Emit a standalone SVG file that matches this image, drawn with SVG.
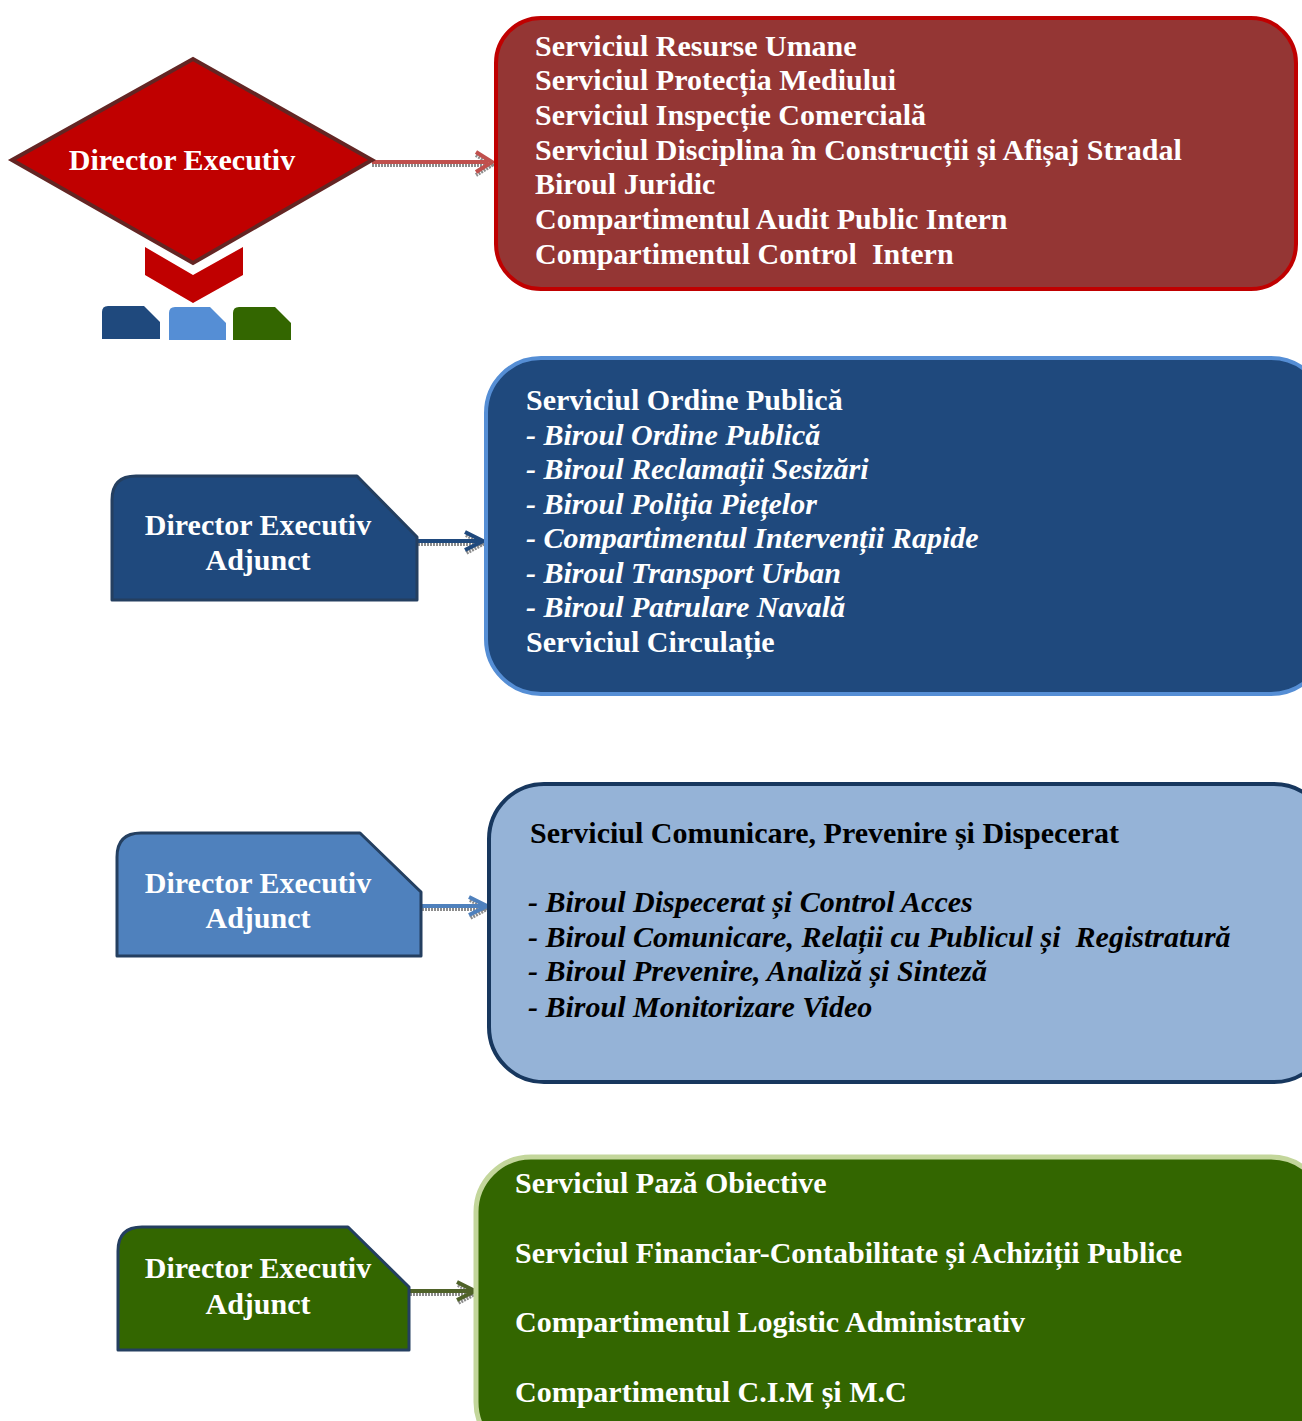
<svg xmlns="http://www.w3.org/2000/svg" width="1302" height="1421" viewBox="0 0 1302 1421">
<style>
text{font-family:"Liberation Serif","Times New Roman",serif;font-weight:bold;font-size:30px;white-space:pre}
.w{fill:#ffffff}
.k{fill:#000000}
.i{font-style:italic}
.c{text-anchor:middle}
.sh{fill:none;stroke:#8c8c8c;stroke-width:4;stroke-dasharray:2 1}
</style>
<rect width="1302" height="1421" fill="#ffffff"/>
<g id="connectors">
  <g id="arrow-red">
    <line class="sh" x1="372" y1="165" x2="490" y2="165"/>
    <polyline class="sh" points="476,155 492,165 476,175"/>
    <line x1="372" y1="162" x2="488" y2="162" stroke="#C0504D" stroke-width="4"/>
    <polyline points="476,152 492,162 476,172" fill="none" stroke="#C0504D" stroke-width="4"/>
  </g>
  <g id="arrow-blue">
    <line class="sh" x1="418" y1="544" x2="482" y2="544"/>
    <polyline class="sh" points="466,535 483,544 466,553"/>
    <line x1="418" y1="541" x2="481" y2="541" stroke="#1F497D" stroke-width="4"/>
    <polyline points="465,532 483,541 465,550" fill="none" stroke="#1F497D" stroke-width="4"/>
  </g>
  <g id="arrow-lightblue">
    <line class="sh" x1="422" y1="909" x2="486" y2="909"/>
    <polyline class="sh" points="470,900 487,909 470,918"/>
    <line x1="422" y1="906" x2="485" y2="906" stroke="#4F81BD" stroke-width="4"/>
    <polyline points="469,897 487,906 469,915" fill="none" stroke="#4F81BD" stroke-width="4"/>
  </g>
  <g id="arrow-green">
    <line class="sh" x1="410" y1="1294" x2="473" y2="1294"/>
    <polyline class="sh" points="458,1285 475,1294 458,1303"/>
    <line x1="410" y1="1291" x2="472" y2="1291" stroke="#4F6228" stroke-width="4"/>
    <polyline points="457,1282 475,1291 457,1300" fill="none" stroke="#4F6228" stroke-width="4"/>
  </g>
</g>
<g id="director-executiv">
  <polygon points="12,160 193,59 372,160 193,263" fill="#C00000" stroke="#632523" stroke-width="4" stroke-linejoin="miter"/>
  <text class="w c" x="182" y="170">Director Executiv</text>
</g>
<g id="chevron">
  <polygon points="145,247 193,275 243,247 243,275 193,303 145,275" fill="#C00000"/>
</g>
<g id="tabs">
  <path d="M102,312 Q102,306 108,306 L144,306 L160,322 L160,339 L102,339 Z" fill="#1F497D"/>
  <path d="M169,313 Q169,307 175,307 L210,307 L226,323 L226,340 L169,340 Z" fill="#558ED5"/>
  <path d="M233,313 Q233,307 239,307 L275,307 L291,323 L291,340 L233,340 Z" fill="#336600"/>
</g>
<g id="box-red">
  <rect x="496" y="18" width="800" height="271" rx="45" ry="45" fill="#943634" stroke="#C00000" stroke-width="4"/>
  <text class="w" x="535" y="56">Serviciul Resurse Umane</text>
  <text class="w" x="535" y="90">Serviciul Protecția Mediului</text>
  <text class="w" x="535" y="125">Serviciul Inspecție Comercială</text>
  <text class="w" x="535" y="160">Serviciul Disciplina în Construcții și Afișaj Stradal</text>
  <text class="w" x="535" y="194">Biroul Juridic</text>
  <text class="w" x="535" y="229">Compartimentul Audit Public Intern</text>
  <text class="w" x="535" y="264">Compartimentul Control  Intern</text>
</g>
<g id="deputy-1">
  <path d="M112,600 L112,500 Q112,476 136,476 L357,476 L417,537 L417,600 Z" fill="#1F497D" stroke="#243F60" stroke-width="3" stroke-linejoin="round"/>
  <text class="w c" x="258" y="535">Director Executiv</text>
  <text class="w c" x="258" y="570">Adjunct</text>
</g>
<g id="box-blue">
  <rect x="486" y="358" width="840" height="336" rx="55" ry="55" fill="#1F497D" stroke="#558ED5" stroke-width="4"/>
  <text class="w" x="526" y="410">Serviciul Ordine Publică</text>
  <text class="w i" x="526" y="445">- Biroul Ordine Publică</text>
  <text class="w i" x="526" y="479">- Biroul Reclamații Sesizări</text>
  <text class="w i" x="526" y="514">- Biroul Poliția Piețelor</text>
  <text class="w i" x="526" y="548">- Compartimentul Intervenții Rapide</text>
  <text class="w i" x="526" y="583">- Biroul Transport Urban</text>
  <text class="w i" x="526" y="617">- Biroul Patrulare Navală</text>
  <text class="w" x="526" y="652">Serviciul Circulație</text>
</g>
<g id="deputy-2">
  <path d="M117,956 L117,857 Q117,833 141,833 L360,833 L421,892 L421,956 Z" fill="#4F81BD" stroke="#243F60" stroke-width="3" stroke-linejoin="round"/>
  <text class="w c" x="258" y="893">Director Executiv</text>
  <text class="w c" x="258" y="928">Adjunct</text>
</g>
<g id="box-lightblue">
  <rect x="489" y="784" width="840" height="298" rx="55" ry="55" fill="#95B3D7" stroke="#17375E" stroke-width="4"/>
  <text class="k" x="530" y="843">Serviciul Comunicare, Prevenire și Dispecerat</text>
  <text class="k i" x="528" y="912">- Biroul Dispecerat și Control Acces</text>
  <text class="k i" x="528" y="947">- Biroul Comunicare, Relații cu Publicul și  Registratură</text>
  <text class="k i" x="528" y="981">- Biroul Prevenire, Analiză și Sinteză</text>
  <text class="k i" x="528" y="1017">- Biroul Monitorizare Video</text>
</g>
<g id="deputy-3">
  <path d="M118,1350 L118,1251 Q118,1227 142,1227 L348,1227 L409,1287 L409,1350 Z" fill="#336600" stroke="#243F60" stroke-width="3" stroke-linejoin="round"/>
  <text class="w c" x="258" y="1278">Director Executiv</text>
  <text class="w c" x="258" y="1314">Adjunct</text>
</g>
<g id="box-green">
  <rect x="476" y="1157" width="850" height="300" rx="55" ry="55" fill="#336600" stroke="#C3D69B" stroke-width="5"/>
  <text class="w" x="515" y="1193">Serviciul Pază Obiective</text>
  <text class="w" x="515" y="1263">Serviciul Financiar-Contabilitate și Achiziții Publice</text>
  <text class="w" x="515" y="1332">Compartimentul Logistic Administrativ</text>
  <text class="w" x="515" y="1402">Compartimentul C.I.M și M.C</text>
</g>
</svg>
